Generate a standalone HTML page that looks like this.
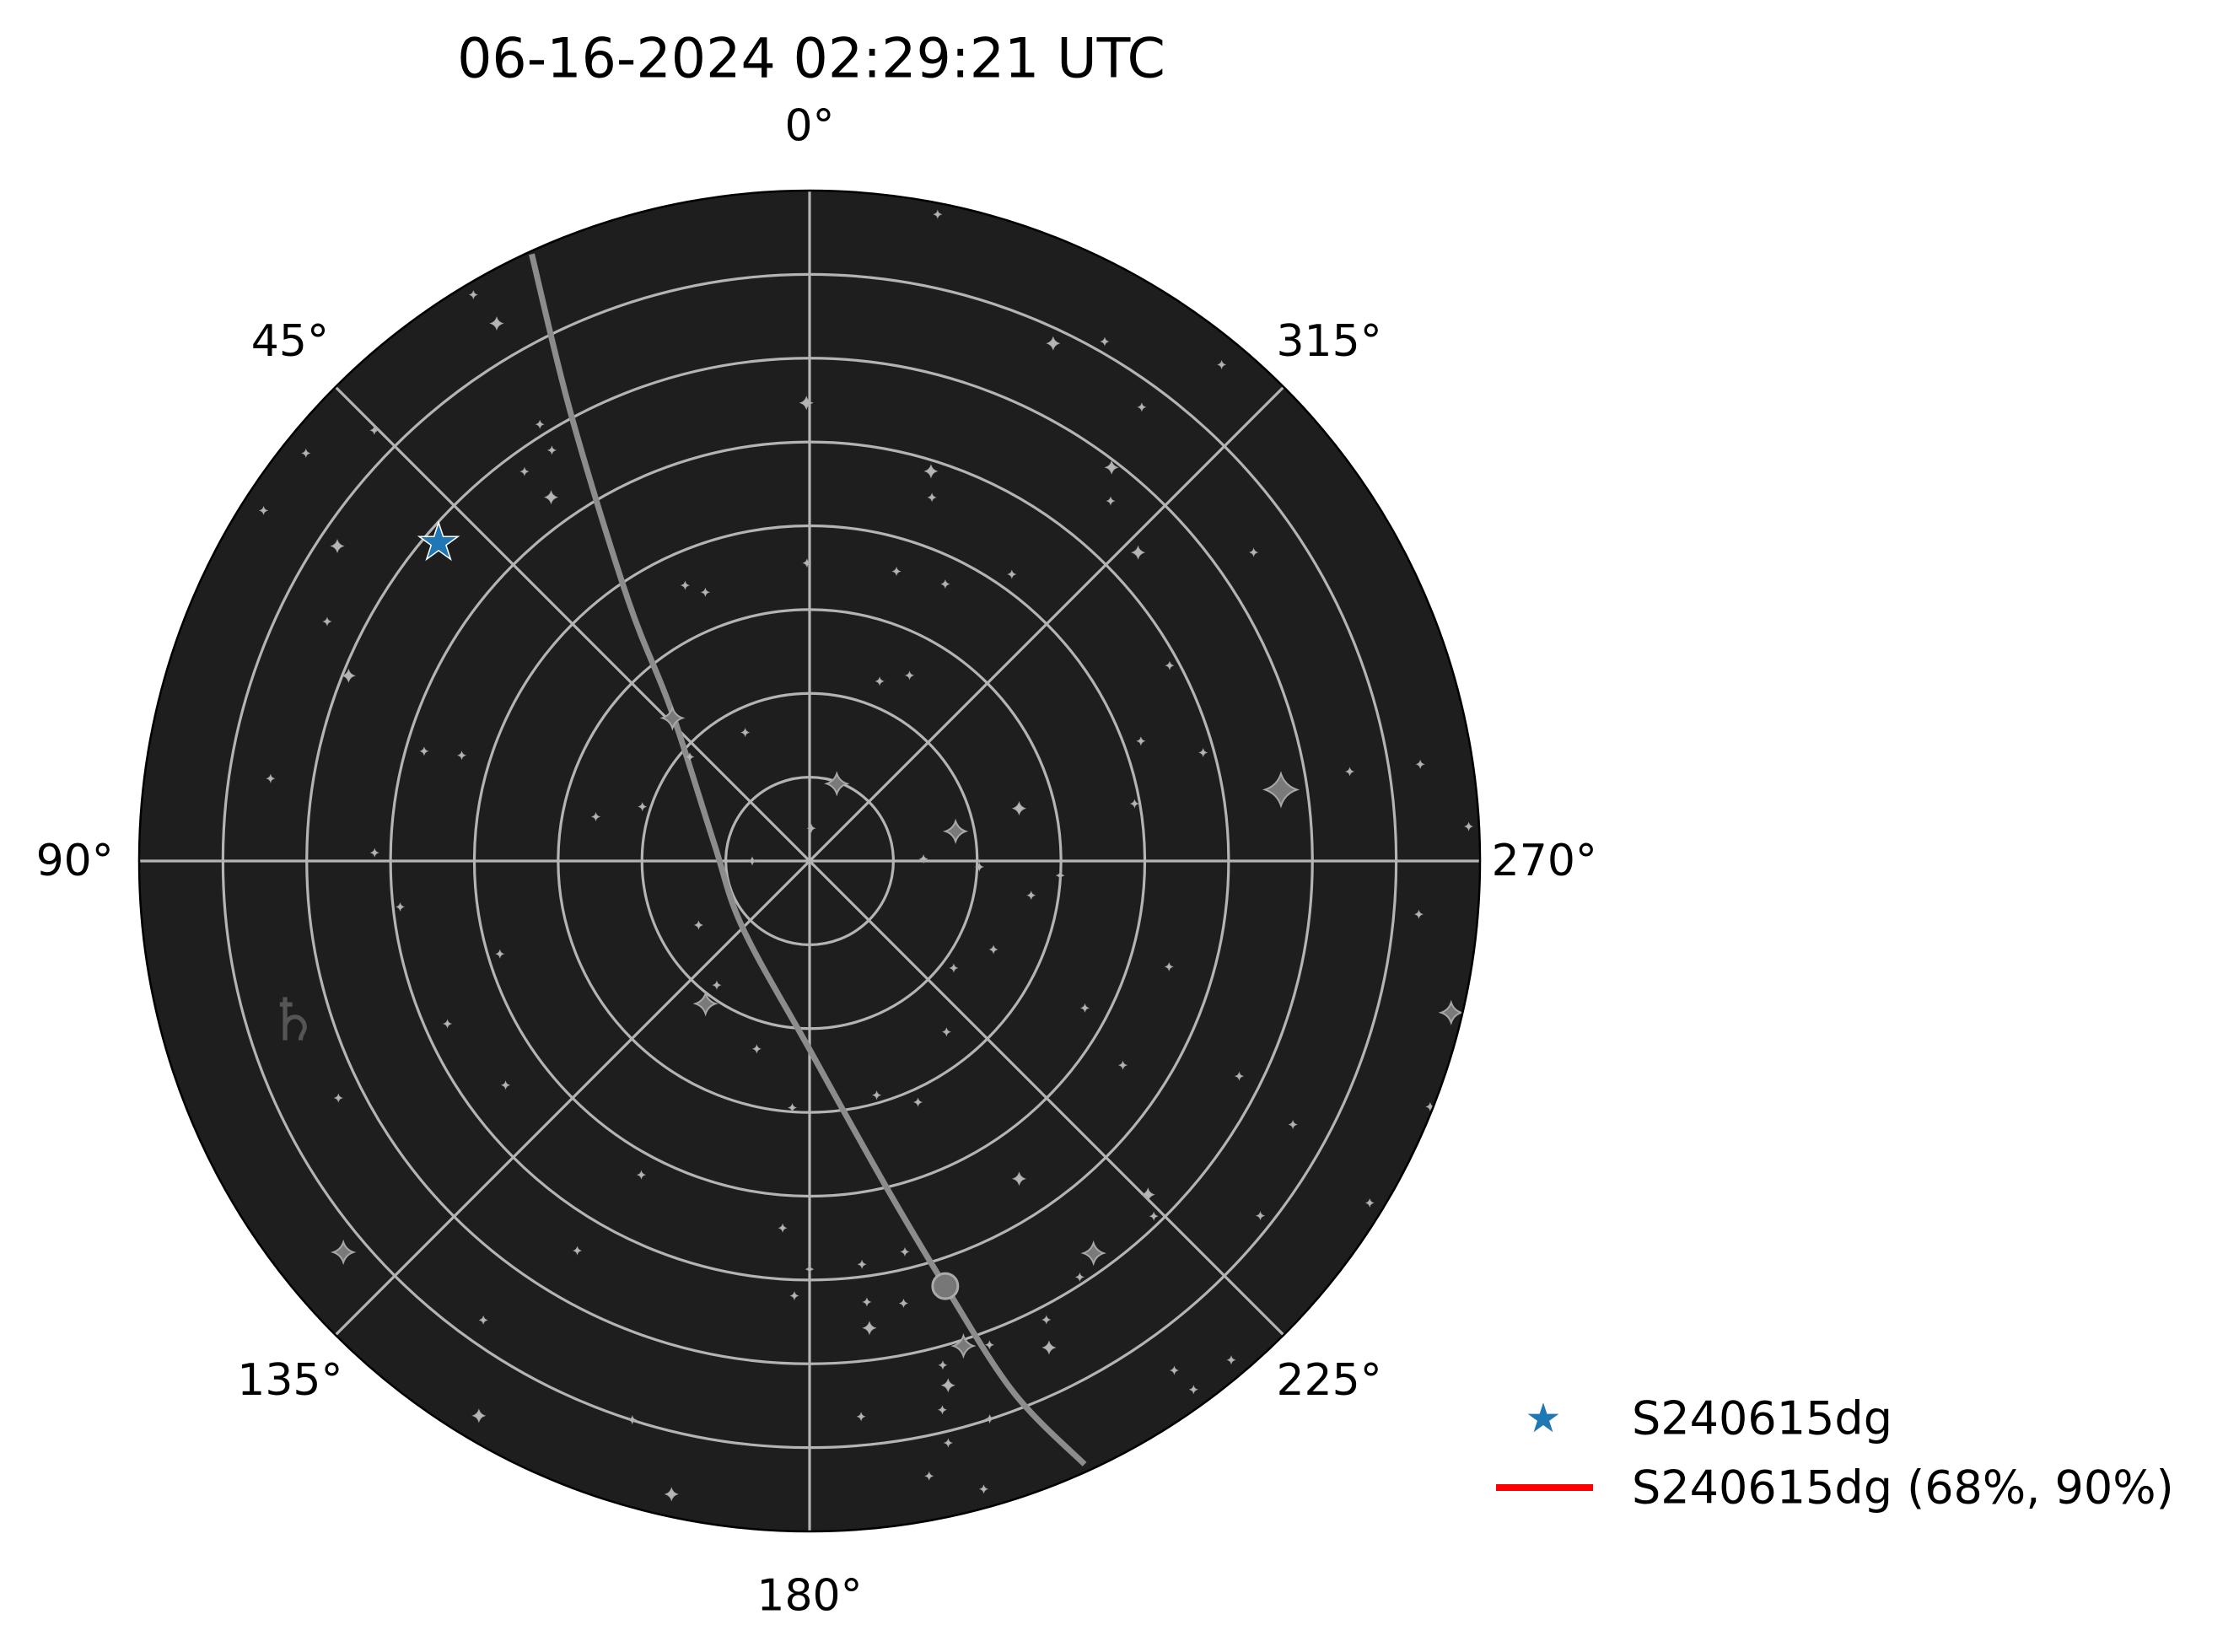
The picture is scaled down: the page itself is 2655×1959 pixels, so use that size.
<!DOCTYPE html>
<html><head><meta charset="utf-8"><style>
html,body{margin:0;padding:0;background:#fff;}
svg{display:block;font-family:"DejaVu Sans","Liberation Sans",sans-serif;}
</style></head><body>
<svg id="chart" width="2655" height="1959" viewBox="0 0 2655 1959">
<text x="962" y="70" font-size="65" text-anchor="middle" dominant-baseline="central" fill="#000">06-16-2024 02:29:21 UTC</text>
<g id="plot"></g>
<g id="labels"></g>
<g>
<text x="1830" y="1682" font-size="48" text-anchor="middle" dominant-baseline="central" fill="#1f77b4">★</text>
<text x="1935" y="1682" font-size="54" dominant-baseline="central" fill="#000">S240615dg</text>
<line x1="1774" y1="1764" x2="1889" y2="1764" stroke="#ff0000" stroke-width="8"/>
<text x="1935" y="1764" font-size="54" dominant-baseline="central" fill="#000">S240615dg (68%, 90%)</text>
</g>
</svg>
<script>
const azTicks=[0,45,90,135,180,225,270,315];
const ringCount=8;
const maxZen=90;
const starAz=[278.6,340.6,281.5,143.9,215.9,130,256.7,43.8,334.8,197.6,149.2,167.7,187.3,194.8,348.8,330.4,320.3,323.8,322.5,320.1,313.2,304.8,342.7,341.4,0.4,0.5,343.3,333.9,324.8,298.5,285.4,289.9,279.4,279,273,280,284.1,338.7,331.7,26.6,24.3,21.2,32.1,35.4,36.2,31.7,30.2,30.7,45.3,51,56.3,57.3,68.1,63.6,74.1,73.1,81.3,88.9,78.3,72,49,90,357,271,268,266.7,120,106.7,96.4,114.2,126.4,164.3,143.2,233.4,244.3,261.2,253.6,218.7,236.9,241.9,243.4,241.4,238.6,231.8,225.4,224.1,213.4,204.2,196,176,151.8,149.2,175.8,180,178,187.4,187.4,192,193.7,213,207.3,206.2,200.4,194.8,193.6,197.9,193.4,215.6,216,220.2,185.3,162.4,144.6,116.7,265,248.4,195.5,191];
const starZen=[64,11,20,23.7,65,81.7,88.5,26.6,76.8,68.3,86.7,87,63.2,72.8,88.5,80.2,86.6,75.5,66.6,63,60.5,72.6,54.8,51.5,61.5,40,40.6,41.4,47.1,55,54.8,47.3,73.5,83,88.6,44.3,29,25.9,28.3,19.3,40.6,38.7,65.1,59.9,64.8,68.9,83.5,88.4,82.2,87,76.2,87.1,66.7,72.3,53.8,48.8,73.2,58.4,29.3,23.6,21.3,7.7,4.4,15.3,22.8,33.7,17.2,43.4,55.3,53.3,50.7,26.2,20.8,24.1,27.4,30.1,50.3,29.4,50.2,41.9,64.5,73.9,88.1,77,63.8,66.4,51.1,35.5,32.7,33.2,47.8,60.9,49.4,54.8,58.4,54.6,59.7,60.7,54,66.6,69.3,72.8,69.3,70,75.8,78.7,80.3,84.1,87.7,87.7,74.9,78.7,75.6,70.8,82.1,89.6,87.5,84.1];
const starMag=[4,3,3,3,3,3,3,3,2,3,2,2,2,2,1,1,1,1,2,1,2,1,2,1,2,1,1,1,1,1,1,1,1,1,1,1,2,1,1,1,1,1,1,2,1,1,2,1,1,1,2,1,2,1,1,1,1,1,1,1,1,1,1,1,1,1,1,1,1,1,1,1,1,1,1,1,1,1,1,1,1,1,1,1,2,1,2,1,1,1,1,1,1,1,1,1,1,1,1,1,1,2,1,1,1,1,1,1,1,1,1,1,1,1,1,1,1,1];
const lineAz=[24.6,28.1,34.8,42.5,79,135,180,193.1,197.7,201,204.5];
const lineZen=[89.6,68,42.7,27.5,13.1,12.7,25.3,44.6,59.9,76.4,89];
const targetAz=[49.4];
const targetZen=[65.6];
const moonAz=[197.7], moonZen=[59.9];
const saturnAz=[107.3], saturnZen=[72.6];

const CX=960,CY=1021,R=795;
const NS='http://www.w3.org/2000/svg';
function rScale(z){return z/maxZen*R;}
function px(az,z){const a=az*Math.PI/180,r=rScale(z);return [CX-r*Math.sin(a),CY-r*Math.cos(a)];}
function mk(tag,attrs,parent){const e=document.createElementNS(NS,tag);for(const k in attrs)e.setAttribute(k,attrs[k]);parent.appendChild(e);return e;}
const plot=document.getElementById('plot');
const bg=mk('circle',{cx:CX,cy:CY,r:R,fill:'#1e1e1e'},plot);


for(let i=1;i<ringCount;i++){
  const c=mk('circle',{cx:CX,cy:CY,r:R*i/ringCount,fill:'none',stroke:'#b4b4b4','stroke-width':3.2},plot);
  
  
}
azTicks.forEach(a=>{
  const p=px(a,maxZen);
  const l=mk('line',{x1:CX,y1:CY,x2:p[0],y2:p[1],stroke:'#b4b4b4','stroke-width':3.2},plot);
  
  
});
const pts=lineAz.map((a,i)=>px(a,lineZen[i]));
let d='M'+pts[0][0]+','+pts[0][1];
for(let i=0;i<pts.length-1;i++){
  const p0=pts[Math.max(0,i-1)],p1=pts[i],p2=pts[i+1],p3=pts[Math.min(pts.length-1,i+2)];
  const c1=[p1[0]+(p2[0]-p0[0])/6,p1[1]+(p2[1]-p0[1])/6];
  const c2=[p2[0]-(p3[0]-p1[0])/6,p2[1]-(p3[1]-p1[1])/6];
  d+=' C'+c1[0]+','+c1[1]+' '+c2[0]+','+c2[1]+' '+p2[0]+','+p2[1];
}
const ec=mk('path',{d:d,fill:'none',stroke:'#8c8c8c','stroke-width':7},plot);


function sparkle(x,y,s){const q=s*0.25;return `M${x},${y-s} Q${x+q},${y-q} ${x+s},${y} Q${x+q},${y+q} ${x},${y+s} Q${x-q},${y+q} ${x-s},${y} Q${x-q},${y-q} ${x},${y-s}Z`;}
starAz.forEach((a,i)=>{
  const p=px(a,starZen[i]);const m=starMag[i];
  const s=[0,4,7,12,19][m];
  const st=mk('path',{d:sparkle(p[0],p[1],s),fill:m>2?'#7a7a7a':'#b5b5b5',stroke:'#a8a8a8','stroke-width':m>2?2:1},plot);
  
  
});
const mp=px(moonAz[0],moonZen[0]);
const moon=mk('circle',{cx:mp[0],cy:mp[1],r:15,fill:'#777',stroke:'#aaa','stroke-width':3},plot);


const sp=px(saturnAz[0],saturnZen[0]);
const sat=mk('text',{x:sp[0],y:sp[1]+22,'font-size':70,'text-anchor':'middle',fill:'#555'},plot);
sat.textContent='♄';


const tp=px(targetAz[0],targetZen[0]);
const tg=mk('text',{x:tp[0],y:tp[1]+17,'font-size':54,'text-anchor':'middle',fill:'#1f77b4',stroke:'#fff','stroke-width':3,'paint-order':'stroke'},plot);
tg.textContent='★';


const border=mk('circle',{cx:CX,cy:CY,r:R,fill:'none',stroke:'#000','stroke-width':2.5},plot);


const lab=document.getElementById('labels');
azTicks.forEach(a=>{
  const p=px(a,maxZen*1.096);
  const t=mk('text',{x:p[0],y:p[1],'font-size':52,'text-anchor':'middle','dominant-baseline':'central',fill:'#000'},lab);
  t.textContent=a+'°';
  
  
});
</script>
</body></html>
